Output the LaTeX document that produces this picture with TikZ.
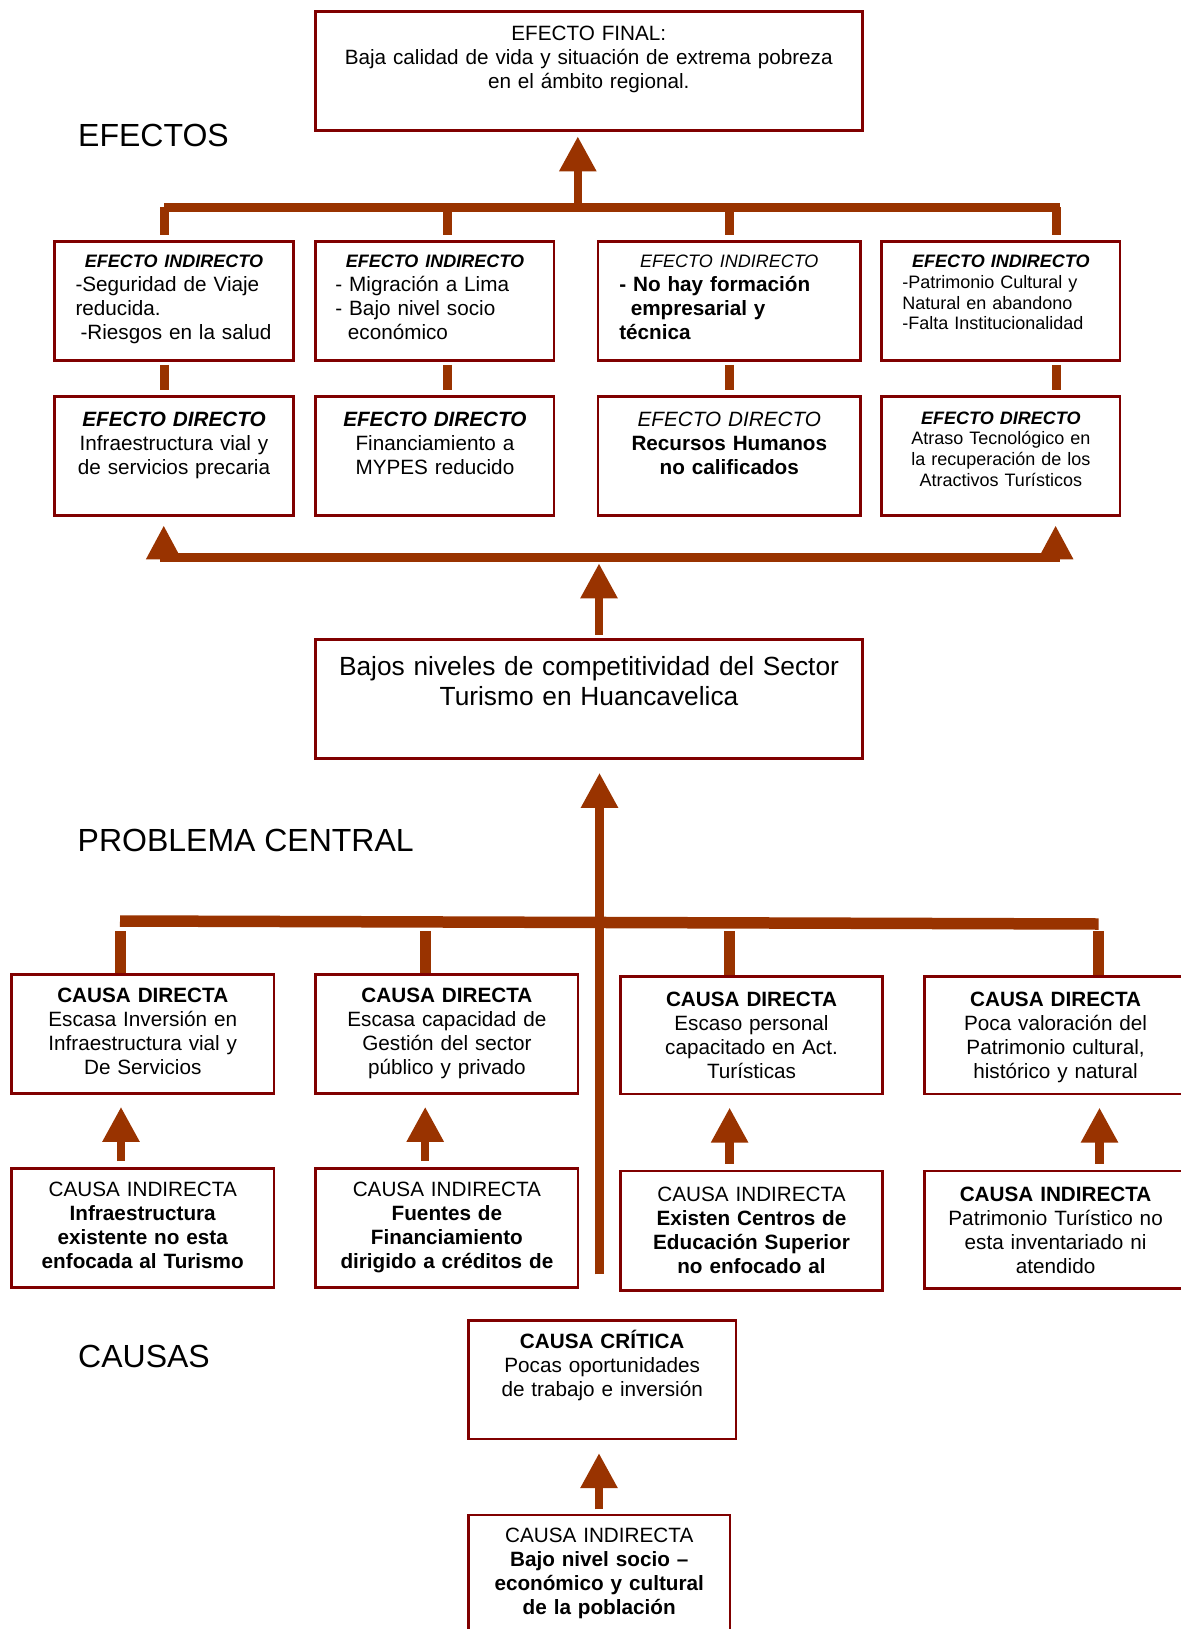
\documentclass[tikz,border=0pt]{standalone}
\usepackage{fontspec}
\setmainfont{Liberation Sans}
\usetikzlibrary{arrows.meta}

\definecolor{borde}{RGB}{128,0,0}
\definecolor{marron}{RGB}{153,51,0}

\newcommand\letra{\fontsize{20.7}{24}\selectfont}
\newcommand\letrachica{\fontsize{18}{20.7}\selectfont}
\newcommand\letramedia{\fontsize{26.3}{30.5}\selectfont}
\newcommand\letragrande{\fontsize{32}{38}\selectfont}

\tikzset{
  caja/.style={draw=borde, line width=2.6pt, inner sep=0pt, minimum height=119pt},
  cajaA/.style={caja, minimum width=238.5pt},
  cajaB/.style={caja, minimum width=262.5pt},
  cajaC/.style={caja, minimum width=547pt},
  texto/.style={text width=#1, align=center, inner sep=0pt, anchor=base, font=\letra},
  lista/.style={texto=#1, align=left},
  etiqueta/.style={anchor=base west, inner sep=0pt, font=\letragrande},
  barra/.style={draw=marron, line width=9pt},
  flecha/.style={draw=marron, line width=8.5pt, -{Triangle[length=35pt,width=35pt]}}
}

\begin{document}
\begin{tikzpicture}[x=1pt, y=-1pt]
  \useasboundingbox (0,0) rectangle (1180,1629);
  % efecto final
  \node[cajaC] (final) at (588.75,71.2) {};
  \node[texto=520pt] (final-t) at ([yshift=-30pt]final.north)
    {EFECTO FINAL:\\Baja calidad de vida y situación de extrema pobreza\\en el ámbito regional.};
  \node[etiqueta] (efectos) at (78,146.7) {EFECTOS};

  % efectos indirectos
  \node[cajaA] (ei1) at (174,300.8) {};
  \node[cajaA] (ei2) at (434.9,300.8) {};
  \node[cajaB] (ei3) at (729.3,300.8) {};
  \node[cajaA] (ei4) at (1000.8,300.8) {};
  \node[lista=197pt] (ei1-t) at ([yshift=-27.6pt]ei1.north)
    {\makebox[\linewidth]{\letrachica\bfseries\itshape EFECTO INDIRECTO}\\-Seguridad de Viaje\\reducida.\\\hspace*{5pt}-Riesgos en la salud};
  \node[lista=199pt] (ei2-t) at ([yshift=-27.6pt]ei2.north)
    {\makebox[\linewidth]{\letrachica\bfseries\itshape EFECTO INDIRECTO}\\- Migración a Lima\\- Bajo nivel socio\\\hspace*{12.5pt}económico};
  \node[lista=220pt] (ei3-t) at ([yshift=-27.6pt]ei3.north)
    {\makebox[\linewidth]{\letrachica\itshape EFECTO INDIRECTO}\\\bfseries - No hay formación\\\hspace*{11.5pt}empresarial y\\técnica};
  \node[lista=197pt, font=\letrachica] (ei4-t) at ([yshift=-27.6pt]ei4.north)
    {\makebox[\linewidth]{\bfseries\itshape EFECTO INDIRECTO}\\-Patrimonio Cultural y\\Natural en abandono\\-Falta Institucionalidad};

  % efectos directos
  \node[cajaA] (ed1) at (174,456.2) {};
  \node[cajaA] (ed2) at (434.9,456.2) {};
  \node[cajaB] (ed3) at (729.3,456.2) {};
  \node[cajaA] (ed4) at (1000.8,456.2) {};
  \node[texto=220pt] (ed1-t) at ([yshift=-30.7pt]ed1.north)
    {{\bfseries\itshape EFECTO DIRECTO}\\Infraestructura vial y\\de servicios precaria};
  \node[texto=220pt] (ed2-t) at ([yshift=-30.7pt]ed2.north)
    {{\bfseries\itshape EFECTO DIRECTO}\\Financiamiento a\\MYPES reducido};
  \node[texto=240pt] (ed3-t) at ([yshift=-30.7pt]ed3.north)
    {{\itshape EFECTO DIRECTO}\\\textbf{Recursos Humanos}\\\textbf{no calificados}};
  \node[texto=220pt, font=\letrachica] (ed4-t) at ([yshift=-28.7pt]ed4.north)
    {{\bfseries\itshape EFECTO DIRECTO}\\Atraso Tecnológico en\\la recuperación de los\\Atractivos Turísticos};

  % barra superior y uniones
  \coordinate (bs1) at (164,207.3);
  \coordinate (bs2) at (1060,207.3);
  \draw[barra] (bs1) -- (bs2);
  \foreach \x/\n in {164/ei1,447/ei2,729.6/ei3,1056/ei4}
    \draw[barra] (\x,0 |- bs1) -- ([yshift=4.5pt]\x,0 |- \n.north);
  \draw[flecha] (577.8,0 |- bs1) -- ([yshift=-4.3pt]577.8,0 |- final.south);
  \foreach \x/\a/\b in {164/ei1/ed1,447/ei2/ed2,729.6/ei3/ed3,1056/ei4/ed4}
    \draw[barra] ([yshift=-3.3pt]\x,0 |- \a.south) -- ([yshift=5pt]\x,0 |- \b.north);

  % problema central
  \node[cajaC] (pc) at (589,699) {};
  \node[texto=520pt, font=\letramedia] (pc-t) at ([yshift=-36.9pt]pc.north)
    {Bajos niveles de competitividad del Sector\\Turismo en Huancavelica};
  \node[etiqueta] (problema) at (77.5,851.7) {PROBLEMA CENTRAL};

  % barra inferior de efectos
  \coordinate (bi1) at (163.75,557.5);
  \coordinate (bi2) at (1055.6,557.5);
  \draw[barra, line width=8.5pt] (bi1) -- (bi2);
  \draw[flecha, -{Triangle[length=34pt,width=33pt]}] ([yshift=-4.2pt]bi1) -- ([yshift=-8.3pt]bi1 |- ed1.south);
  \draw[flecha, -{Triangle[length=34pt,width=33pt]}] ([yshift=-4.2pt]bi2) -- ([yshift=-8.3pt]bi2 |- ed4.south);
  \draw[flecha] ([yshift=3.3pt]599,0 |- pc.north) -- ([yshift=-5.8pt]599,0 |- bi1);

  % causas directas
  \node[cajaB] (cd1) at (142.75,1033.7) {};
  \node[cajaB] (cd2) at (446.9,1033.7) {};
  \node[cajaB, minimum height=117.3pt] (cd3) at (751.5,1035.3) {};
  \node[cajaB, minimum height=117.3pt] (cd4) at (1055.6,1035.3) {};
  \node[texto=240pt] (cd1-t) at ([yshift=-30pt]cd1.north)
    {\textbf{CAUSA DIRECTA}\\Escasa Inversión en\\Infraestructura vial y\\De Servicios};
  \node[texto=240pt] (cd2-t) at ([yshift=-30pt]cd2.north)
    {\textbf{CAUSA DIRECTA}\\Escasa capacidad de\\Gestión del sector\\público y privado};
  \node[texto=240pt] (cd3-t) at ([yshift=-30.7pt]cd3.north)
    {\textbf{CAUSA DIRECTA}\\Escaso personal\\capacitado en Act.\\Turísticas};
  \node[texto=240pt] (cd4-t) at ([yshift=-30.7pt]cd4.north)
    {\textbf{CAUSA DIRECTA}\\Poca valoración del\\Patrimonio cultural,\\histórico y natural};

  % causas indirectas
  \node[cajaB] (ci1) at (142.75,1227.8) {};
  \node[cajaB] (ci2) at (446.9,1227.8) {};
  \node[cajaB, minimum height=119.7pt] (ci3) at (751.5,1230.9) {};
  \node[cajaB, minimum height=117.3pt] (ci4) at (1055.6,1229.7) {};
  \node[texto=240pt] (ci1-t) at ([yshift=-29.8pt]ci1.north)
    {CAUSA INDIRECTA\\\textbf{Infraestructura}\\\textbf{existente no esta}\\\textbf{enfocada al Turismo}};
  \node[texto=240pt] (ci2-t) at ([yshift=-29.8pt]ci2.north)
    {CAUSA INDIRECTA\\\textbf{Fuentes de}\\\textbf{Financiamiento}\\\textbf{dirigido a créditos de}};
  \node[texto=240pt] (ci3-t) at ([yshift=-31.4pt]ci3.north)
    {CAUSA INDIRECTA\\\textbf{Existen Centros de}\\\textbf{Educación Superior}\\\textbf{no enfocado al}};
  \node[texto=240pt] (ci4-t) at ([yshift=-31.4pt]ci4.north)
    {\textbf{CAUSA INDIRECTA}\\Patrimonio Turístico no\\esta inventariado ni\\atendido};

  % barra de causas y flecha larga
  \coordinate (bc1) at (120,921);
  \coordinate (bc2) at (1098.6,924);
  \draw[barra, line width=11.5pt] (bc1) -- (bc2);
  \foreach \x/\n in {120.5/cd1,425/cd2,729.5/cd3,1098.5/cd4}
    \draw[barra, line width=11pt] ([yshift=-10pt]\x,0 |- bc1) -- (\x,0 |- \n.north);
  \coordinate (pcb) at (599.5,1274.3);
  \draw[flecha] (pcb) -- ([yshift=-13pt]pcb |- pc.south);
  \foreach \x/\a/\b in {121/ci1/cd1,425.2/ci2/cd2,729.6/ci3/cd3,1099.5/ci4/cd4}
    \draw[flecha] ([yshift=6pt]\x,0 |- \a.north) -- ([yshift=-12.3pt]\x,0 |- \b.south);

  % causa critica
  \node[caja, minimum width=267.7pt, minimum height=118.3pt] (critica) at (602.2,1379.9) {};
  \node[texto=240pt] (critica-t) at ([yshift=-29pt]critica.north)
    {\textbf{CAUSA CRÍTICA}\\Pocas oportunidades\\de trabajo e inversión};
  \node[etiqueta] (causas) at (78,1367) {CAUSAS};
  \node[cajaB, minimum width=261.7pt] (cib) at (599.2,1574.5) {};
  \node[texto=240pt] (cib-t) at ([yshift=-29pt]cib.north)
    {CAUSA INDIRECTA\\\textbf{Bajo nivel socio –}\\\textbf{económico y cultural}\\\textbf{de la población}};
  \draw[flecha] ([yshift=4.3pt]599,0 |- cib.north) -- ([yshift=-12.7pt]599,0 |- critica.south);
\end{tikzpicture}
\end{document}
